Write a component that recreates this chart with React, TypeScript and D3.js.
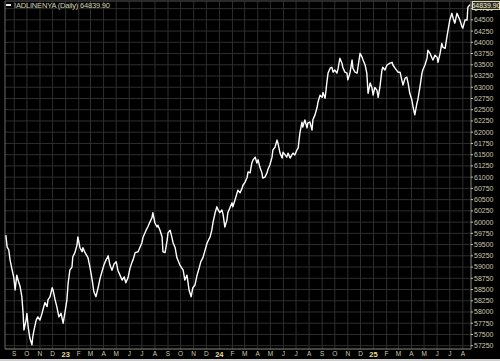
import React from "react";
import * as d3 from "d3";

const title = "!ADLINENYA (Daily) 64839.90";
const lastLabel = "64839.90";
const startDate = "2022-08-10";
const monthLetters = ["J", "F", "M", "A", "M", "J", "J", "A", "S", "O", "N", "D"];
const yTickMin = 57250;
const yTickMax = 64750;
const yTickStep = 250;

const dayOffsets = [
  2, 5, 9, 12, 17, 21, 24, 28, 31, 36, 40, 43, 45, 50, 52, 55, 59, 64, 66, 69, 74, 78, 83, 88, 90, 95, 100, 102, 107, 112,
  114, 119, 123, 128, 133, 138, 142, 147, 150, 154, 159, 161, 166, 171, 173,
  178, 183, 185, 190, 197, 202, 207, 211, 216, 221, 226, 230, 235, 240, 245, 249, 254, 259, 264, 268, 273, 278, 283, 287,
  292, 297, 302, 304, 309, 316, 325, 328, 335, 339, 344, 349, 351, 356, 361, 363, 368, 373, 375, 380, 385, 387, 392, 396,
  399, 404, 408, 415, 423, 427, 432, 437, 442, 446, 451, 456, 461, 465, 470, 480, 487, 491, 494, 499, 503, 506, 510, 515,
  518, 522, 527, 529, 534, 539, 541, 546, 551, 553, 558, 563, 565, 570, 575, 577, 582, 586, 589, 594, 598, 601, 605, 610,
  612, 617, 622, 624, 629, 634, 636, 641, 646, 648, 653, 658, 660, 665, 669, 672, 677, 681, 684, 688, 693, 696, 700, 705,
  707, 712, 717, 719, 724, 729, 731, 736, 741, 743, 748, 753, 755, 760, 764, 767, 772, 776, 779, 783, 788, 791, 795, 800,
  802, 807, 812, 814, 819, 824, 826, 831, 836, 838, 843, 848, 850, 855, 859, 862, 867, 871, 874, 878, 883, 886, 890, 895,
  897, 902, 907, 914, 919, 921, 926, 933, 938, 942, 945, 950, 954, 957, 961, 966, 969, 973, 978, 980, 985, 990, 992, 997,
  1002, 1004, 1009, 1014, 1016, 1021, 1026, 1028, 1033, 1037, 1040, 1045, 1049, 1052, 1056, 1061, 1064, 1068, 1073, 1075,
  1080, 1085, 1087, 1092, 1097, 1099, 1104,
];

const values = [
  59710, 59450, 59380, 59160, 58930, 58760, 58490, 58820, 58710, 58560, 58340, 57970, 57600, 57820, 57970, 57670, 57420,
  57270, 57450, 57600, 57820, 57890, 57820, 57970, 58050, 58210, 58120, 58270, 58340, 58540, 58490, 58270, 58120, 57890,
  57970, 57750, 57970, 58270, 58650, 58930, 59000, 59230, 59320, 59490, 59670,
  59430, 59340, 59430, 59320, 59210, 58980, 58710, 58450, 58340, 58540, 58760, 58890, 59050, 59160, 59250, 59050, 58930,
  59070, 59120, 58930, 58820, 58710, 58780, 58650, 58760, 58980, 59120, 59160, 59320, 59340, 59540, 59670, 59820, 59890,
  60000, 60100, 60210, 59980, 59890, 59930, 59820, 59670, 59340, 59320, 59600, 59760, 59820, 59670, 59540, 59430, 59210,
  59050, 58930, 58710, 58820, 58490, 58340, 58540, 58600, 58820, 58980, 59120, 59210, 59540, 59670, 59820, 60000, 60210,
  60340, 60270, 60210, 60270, 60160, 59890, 60050, 60210, 60320, 60430, 60340, 60490, 60650, 60710, 60650, 60760, 60820,
  60890, 61000, 61115, 61095, 61315, 61385, 61445, 61315, 61385, 61225, 61095, 60980, 61000, 61095, 61165, 61275, 61445,
  61605, 61665, 61825, 61755, 61535, 61425, 61555, 61495, 61445, 61535, 61425, 61495, 61535, 61495, 61605, 61645, 61975,
  62225, 62115, 62275, 62095, 62205, 62225, 62050, 62275, 62385, 62555, 62665, 62825, 62775, 62885, 62755, 63095, 63315,
  63425, 63445, 63335, 63385, 63315, 63425, 63645, 63535, 63445, 63335, 63315, 63165, 63315, 63605, 63425, 63335, 63315,
  63445, 63755, 63665, 63605, 63495, 63315, 62865, 63095, 62995, 62825, 62995, 62935, 62775, 62995, 63385, 63445, 63385,
  63495, 63535, 63555, 63495, 63425, 63335, 63335, 63165, 63050, 63205, 63225, 63095, 62865, 62715, 62555, 62385, 62645,
  62715, 62995, 63315, 63385, 63495, 63645, 63825, 63755, 63645, 63605, 63715, 63665, 63555, 63755, 63975, 63885, 63865,
  64110, 64275, 64495, 64645, 64535, 64425, 64645, 64605, 64495, 64345, 64315, 64495, 64495, 64780, 64839.9,
];

const W = 500;
const H = 361;
const plotLeft = 5;
const plotRight = 471;
const plotTop = 1;
const plotBottom = 349;

export default function App() {
  const start = d3.timeParse("%Y-%m-%d")(startDate) as Date;
  const dates = dayOffsets.map((d) => d3.timeDay.offset(start, d));
  const x = d3
    .scaleTime()
    .domain([start, d3.timeDay.offset(start, 1104)])
    .range([5, 470]);
  const y = d3.scaleLinear().domain([yTickMin, yTickMax]).range([345.7, 8.6]);

  const yTicks = d3.range(yTickMin, yTickMax + 1, yTickStep);
  const months = d3.timeMonth.range(new Date(2022, 8, 1), new Date(2025, 7, 2));

  const line = d3
    .line<number>()
    .x((_, i) => x(dates[i]))
    .y((v) => y(v));

  const gridColor = "#2e2e2e";
  const textColor = "#c9c9ad";

  return (
    <svg
      width={W}
      height={H}
      style={{ position: "fixed", left: 0, top: 0, display: "block", background: "#000" }}
      fontFamily="'Liberation Sans', Arial, sans-serif"
    >
      <rect x={0} y={0} width={W} height={H} fill="#000" />
      {yTicks.map((t) => (
        <line key={"hg" + t} x1={plotLeft} x2={plotRight} y1={y(t)} y2={y(t)} stroke={gridColor} strokeWidth={1} />
      ))}
      {months.map((m) => (
        <line
          key={"vg" + m.getTime()}
          x1={x(m)}
          x2={x(m)}
          y1={plotTop}
          y2={plotBottom}
          stroke={gridColor}
          strokeWidth={1}
        />
      ))}
      <line x1={plotLeft} x2={plotLeft} y1={plotTop} y2={plotBottom} stroke="#6a6a6a" />
      <line x1={plotLeft} x2={W} y1={plotTop} y2={plotTop} stroke="#555" />
      <line x1={plotRight} x2={plotRight} y1={plotTop} y2={plotBottom} stroke="#8a8a80" />
      <line x1={plotLeft} x2={plotRight} y1={plotBottom} y2={plotBottom} stroke="#8a8a80" />

      <path d={line(values) || ""} fill="none" stroke="#ffffff" strokeWidth={1.4} strokeLinejoin="round" />

      {yTicks.map((t) => (
        <g key={"yl" + t}>
          <line x1={plotRight} x2={plotRight + 2} y1={y(t)} y2={y(t)} stroke={textColor} />
          <text x={plotRight + 3} y={y(t)} dy="0.35em" fontSize={7} fill={textColor}>
            {t}
          </text>
        </g>
      ))}

      {months.map((m) => {
        const isYear = m.getMonth() === 0;
        const label = isYear ? d3.timeFormat("%y")(m) : monthLetters[m.getMonth()];
        return (
          <text
            key={"xl" + m.getTime()}
            x={x(m)}
            y={354}
            dy="0.35em"
            textAnchor="middle"
            fontSize={isYear ? 7.5 : 6.5}
            fontWeight={isYear ? "bold" : "normal"}
            fill={isYear ? "#e6dc96" : textColor}
          >
            {label}
          </text>
        );
      })}

      <rect x={0} y={359} width={W} height={2} fill="#cfcfcf" />

      <rect x={6} y={4} width={5} height={2} fill="#e8e8e8" />
      <text x={14} y={5.5} dy="0.35em" fontSize={7.5} fill="#d2d2b4" textLength={96} lengthAdjust="spacing">
        {title}
      </text>

      <rect x={472.5} y={1.5} width={27} height={8} fill="#2c2c24" stroke="#d8d8b0" strokeWidth={1} />
      <text x={486} y={5.6} dy="0.35em" textAnchor="middle" fontSize={7} fill="#ecead0">
        {lastLabel}
      </text>
    </svg>
  );
}
